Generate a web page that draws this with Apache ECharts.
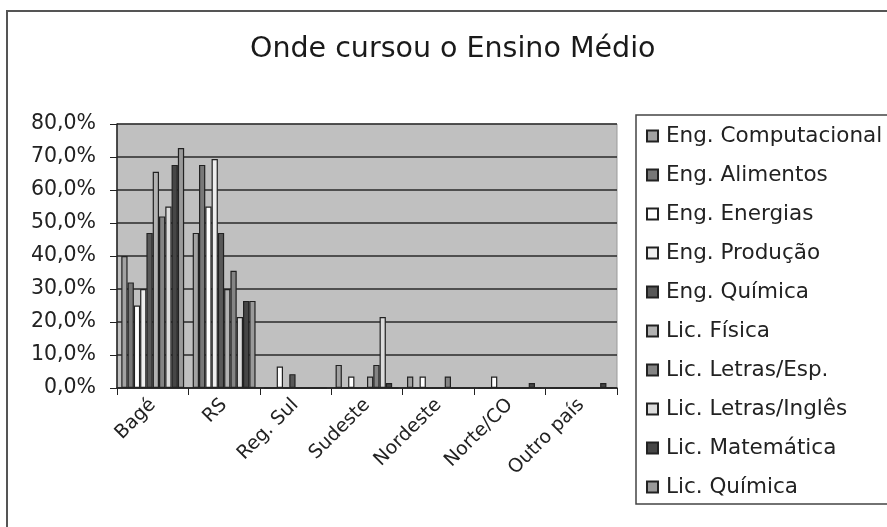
<!DOCTYPE html>
<html>
<head>
<meta charset="utf-8">
<script src="https://cdn.jsdelivr.net/npm/echarts@6/dist/echarts.min.js"></script>
<style>
  html, body { margin: 0; padding: 0; background: #fff; }
  #chart { width: 887px; height: 527px; }
</style>
</head>
<body>
<div id="chart"></div>
<script>
// categorias (onde cursou o ensino médio)
var categorias = ["Bagé", "RS", "Reg. Sul", "Sudeste", "Nordeste", "Norte/CO", "Outro país"];

// percentuais por curso
var engComputacional = [40.0, 47.0, 0, 7.0, 3.5, 0, 0];
var engAlimentos     = [32.0, 67.6, 0, 0, 0, 0, 0];
var engEnergias      = [25.0, 55.0, 6.5, 3.5, 3.5, 3.5, 0];
var engProducao      = [30.0, 69.4, 0, 0, 0, 0, 0];
var engQuimica       = [47.0, 47.0, 4.2, 0, 0, 0, 0];
var licFisica        = [65.5, 30.0, 0, 3.5, 0, 0, 0];
var licLetrasEsp     = [52.0, 35.5, 0, 7.0, 3.5, 0, 0];
var licLetrasIngles  = [55.0, 21.5, 0, 21.5, 0, 0, 0];
var licMatematica    = [67.6, 26.4, 0, 1.5, 0, 1.5, 1.5];
var licQuimica       = [72.7, 26.4, 0, 0, 0, 0, 0];

var cursos = [
  { nome: "Eng. Computacional", dados: engComputacional, cor: "#a2a2a2" },
  { nome: "Eng. Alimentos", dados: engAlimentos, cor: "#787878" },
  { nome: "Eng. Energias", dados: engEnergias, cor: "#ffffff" },
  { nome: "Eng. Produção", dados: engProducao, cor: "#eeeeee" },
  { nome: "Eng. Química", dados: engQuimica, cor: "#585858" },
  { nome: "Lic. Física", dados: licFisica, cor: "#b2b2b2" },
  { nome: "Lic. Letras/Esp.", dados: licLetrasEsp, cor: "#848484" },
  { nome: "Lic. Letras/Inglês", dados: licLetrasIngles, cor: "#dcdcdc" },
  { nome: "Lic. Matemática", dados: licMatematica, cor: "#464646" },
  { nome: "Lic. Química", dados: licQuimica, cor: "#9a9a9a" }
];

var fonte = "DejaVu Sans";
var myChart = echarts.init(document.getElementById("chart"));

var series = cursos.map(function (c) {
  return {
    name: c.nome,
    type: "bar",
    data: c.dados,
    barGap: "0%",
    barCategoryGap: "12%",
    itemStyle: { color: c.cor, borderColor: "#222222", borderWidth: 1.2 }
  };
});

var option = {
  animation: false,
  backgroundColor: "#ffffff",
  textStyle: { fontFamily: fonte },
  title: {
    text: "Onde cursou o Ensino Médio",
    left: 250,
    top: 35,
    padding: 0,
    textStyle: { fontFamily: fonte, fontSize: 28.5, fontWeight: "normal", color: "#1a1a1a" }
  },
  graphic: [
    {
      type: "rect",
      shape: { x: 7, y: 11, width: 1000, height: 1000 },
      style: { fill: null, stroke: "#555555", lineWidth: 2 },
      silent: true
    }
  ],
  legend: {
    orient: "vertical",
    left: 636,
    top: 115,
    padding: [10, 40, 6, 10],
    itemGap: 17,
    itemWidth: 11,
    itemHeight: 11,
    icon: "rect",
    borderColor: "#444444",
    borderWidth: 1.5,
    textStyle: { fontFamily: fonte, fontSize: 21.5, color: "#222222", padding: [0, 0, 0, 3] },
    data: cursos.map(function (c) { return c.nome; })
  },
  grid: {
    left: 117,
    right: 270,
    top: 124,
    bottom: 139,
    show: true,
    backgroundColor: "#c0c0c0",
    borderColor: "#9a9a9a",
    borderWidth: 1
  },
  xAxis: {
    type: "category",
    data: categorias,
    axisLine: { lineStyle: { color: "#222222", width: 1.5 } },
    axisTick: { show: true, length: 7, lineStyle: { color: "#222222" } },
    axisLabel: {
      rotate: 45,
      margin: 14,
      interval: 0,
      fontFamily: fonte,
      fontSize: 19,
      color: "#222222"
    }
  },
  yAxis: {
    type: "value",
    min: 0,
    max: 80,
    interval: 10,
    axisLine: { show: true, lineStyle: { color: "#222222", width: 1.5 } },
    axisTick: { show: true, length: 7, lineStyle: { color: "#222222" } },
    axisLabel: {
      margin: 21,
      fontFamily: fonte,
      fontSize: 20.5,
      color: "#222222",
      formatter: function (v) { return v.toFixed(1).replace(".", ",") + "%"; }
    },
    splitLine: { lineStyle: { color: "#2a2a2a", width: 1.5 } }
  },
  series: series
};

myChart.setOption(option);
</script>
</body>
</html>
